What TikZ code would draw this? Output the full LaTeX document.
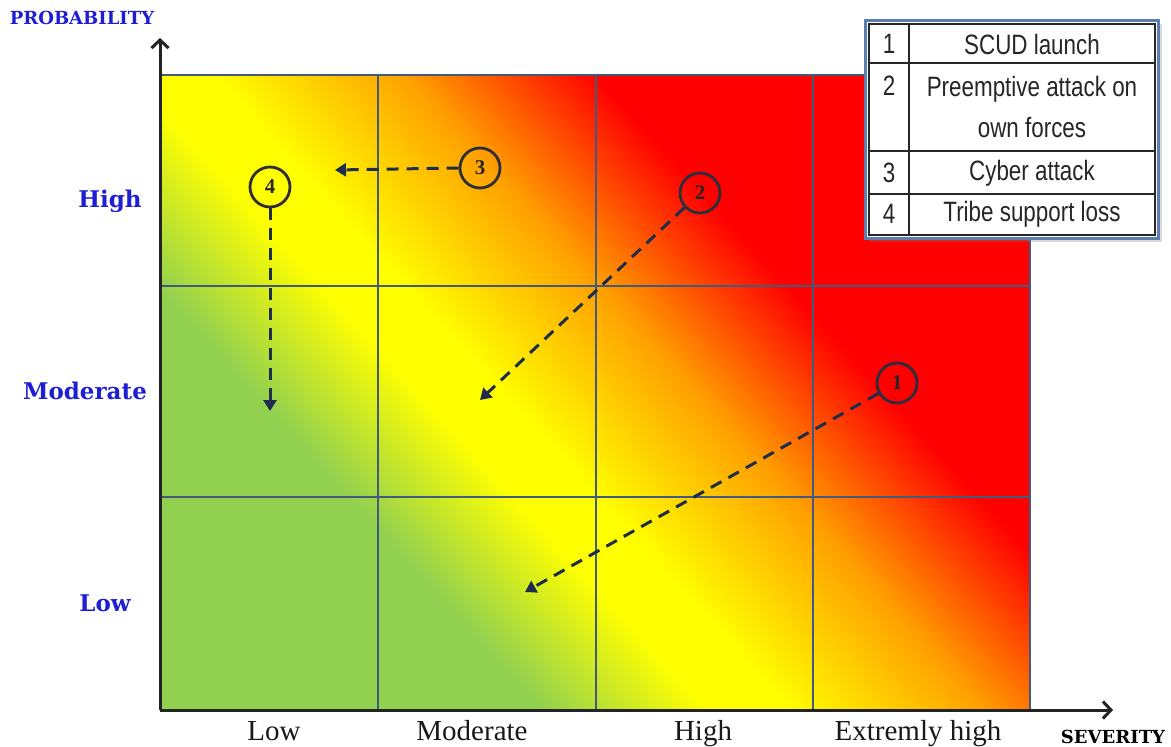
\documentclass[tikz,border=0pt]{standalone}
\usepackage{fontspec}
\usetikzlibrary{arrows.meta,shadows}
\setmainfont{Liberation Serif}
\newfontfamily\legendfont[FakeStretch=0.8]{Liberation Sans}
\newfontfamily\heavyserif{DejaVu Serif}
\definecolor{rgreen}{RGB}{146,208,80}
\definecolor{ryellow}{RGB}{255,255,0}
\definecolor{rorange}{RGB}{255,160,0}
\definecolor{rred}{RGB}{255,0,0}
\definecolor{gridc}{RGB}{65,90,125}
\definecolor{arrowc}{RGB}{30,45,75}
\definecolor{axisc}{RGB}{35,35,35}
\definecolor{circc}{RGB}{45,45,60}
\definecolor{problue}{RGB}{30,30,210}
\definecolor{legendborder}{RGB}{90,125,180}
\pgfdeclarehorizontalshading{riskshade}{100bp}{color(0bp)=(rgreen); color(25bp)=(rgreen); color(38.2bp)=(ryellow); color(44.5bp)=(ryellow); color(60bp)=(rorange); color(75bp)=(rred); color(100bp)=(rred)}
\begin{document}
\begin{tikzpicture}[x=1pt,y=-1pt,
  gridline/.style={draw=gridc, line width=2.2pt},
  axisline/.style={draw=axisc, line width=3pt, -{Straight Barb[length=8pt,width=17pt]}},
  riskc/.style={circle, draw=circc, line width=2.8pt, minimum size=40pt, inner sep=0pt,
    font=\bfseries\fontsize{21pt}{21pt}\selectfont, text=black!85},
  riskarrow/.style={draw=arrowc, line width=3pt, dash pattern=on 12pt off 8pt,
    -{Triangle[width=13pt,length=11pt]}},
  legtext/.style={font=\legendfont\fontsize{28pt}{41pt}\selectfont, inner sep=0pt, align=center, text=black!85},
  ylab/.style={font=\heavyserif\bfseries\fontsize{23pt}{23pt}\selectfont, text=problue, inner sep=0pt},
  xlab/.style={font=\fontsize{29pt}{29pt}\selectfont, text=black!90, inner sep=0pt, anchor=base},
  axtitle/.style={font=\heavyserif\bfseries\fontsize{18pt}{18pt}\selectfont, inner sep=0pt}
]
\useasboundingbox (0,0) rectangle (1171,747);
% background gradient
\begin{scope}
  \clip (160,75) rectangle (1030,710);
  \begin{scope}[transform canvas={rotate=42.3}]
    \fill[rgreen] (-450pt,-1400pt) rectangle (-70pt,0pt);
    \fill[rred] (380pt,-1400pt) rectangle (800pt,0pt);
    \shade[shading=riskshade] (-77pt,-1400pt) rectangle (390pt,0pt);
  \end{scope}
\end{scope}
% grid
\draw[gridline] (378,75) -- (378,710);
\draw[gridline] (596,75) -- (596,710);
\draw[gridline] (813,75) -- (813,710);
\draw[gridline] (160,286) -- (1030,286);
\draw[gridline] (160,497) -- (1030,497);
\draw[gridline] (160,75) -- (1030,75) -- (1030,710);
% axes
\coordinate (O) at (160,710);
\coordinate (ytip) at (160,38);
\coordinate (xtip) at (1113,710);
\draw[axisline] (O) -- (ytip);
\draw[axisline] (O) -- (xtip);
% axis titles
\node[axtitle, text=problue] (ptitle) at (82,18) {PROBABILITY};
\node[axtitle, text=black] (stitle) at (1113,737) {SEVERITY};
% y labels
\node[ylab] (yhigh) at (110,201) {High};
\node[ylab] (ymod) at (85,391) {Moderate};
\node[ylab] (ylow) at (105,603) {Low};
% x labels
\node[xlab] (xlow) at (274,740) {Low};
\node[xlab] (xmod) at (472,740) {Moderate};
\node[xlab] (xhigh) at (703,740) {High};
\node[xlab] (xext) at (918,740) {Extremly high};
% risk circles
\node[riskc] (c1) at (897,383) {1};
\node[riskc] (c2) at (700,193) {2};
\node[riskc] (c3) at (480,168) {3};
\node[riskc] (c4) at (270,187) {4};
\coordinate (t1) at (525,592);
\coordinate (t2) at (480,400);
\coordinate (t3) at (335,170);
\coordinate (t4) at (270,411);
\draw[riskarrow] (c1) -- (t1);
\draw[riskarrow] (c2) -- (t2);
\draw[riskarrow] (c3.west) -- (t3);
\draw[riskarrow] (c4.south) -- (t4);
% legend
\draw[draw=legendborder, line width=3pt, fill=white,
  drop shadow={opacity=0.3, shadow xshift=4pt, shadow yshift=-4pt}] (865,20) rectangle (1158,238);
\draw[black!85, line width=1.5pt] (869,24) rectangle (1155,235);
\draw[black!85, line width=1.5pt] (869,63) -- (1155,63);
\draw[black!85, line width=1.5pt] (869,151) -- (1155,151);
\draw[black!85, line width=1.5pt] (869,194) -- (1155,194);
\draw[black!85, line width=1.5pt] (909,24) -- (909,235);
\node[legtext] (n1) at (889,44) {1};
\node[legtext] (l1) at (1032,44) {SCUD launch};
\node[legtext] (n2) at (889,86) {2};
\node[legtext, anchor=north] (l2) at (1032,76) {Preemptive attack on\\own forces};
\node[legtext] (n3) at (889,173) {3};
\node[legtext] (l3) at (1032,173) {Cyber attack};
\node[legtext] (n4) at (889,214) {4};
\node[legtext] (l4) at (1032,214) {Tribe support loss};
\end{tikzpicture}
\end{document}
